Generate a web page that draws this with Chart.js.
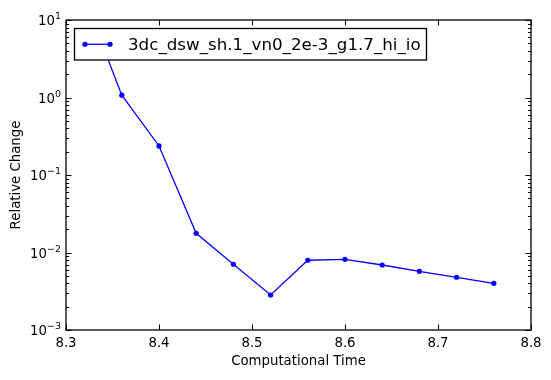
<!DOCTYPE html>
<html><head><meta charset="utf-8">
<script src="https://cdn.jsdelivr.net/npm/chart.js@4"></script>
<style>html,body{margin:0;padding:0;background:#fff}#wrap{width:551px;height:380px}</style>
</head><body><div id="wrap"><canvas id="c" width="551" height="380"></canvas></div>
<script>
const times = [8.34, 8.36, 8.40, 8.44, 8.48, 8.52, 8.56, 8.60, 8.64, 8.68, 8.72, 8.76];
const relChange = [4.5, 1.07, 0.237, 0.0177, 0.00705, 0.00283, 0.00794, 0.00817, 0.0069, 0.00572, 0.00479, 0.0040];
const seriesName = '3dc_dsw_sh.1_vn0_2e-3_g1.7_hi_io';
const xTicks = [8.3, 8.4, 8.5, 8.6, 8.7, 8.8];
const yExps = [-3, -2, -1, 0, 1];
const xTitle = 'Computational Time';
const yTitle = 'Relative Change';

const FONT = '"DejaVu Sans", sans-serif';
const axesPlugin = {
  id: 'mplAxes',
  afterDatasetsDraw(chart) {
    const ctx = chart.ctx, a = chart.chartArea;
    const xs = chart.scales.x, ys = chart.scales.y;
    ctx.save();
    ctx.strokeStyle = '#000';
    ctx.fillStyle = '#000';
    ctx.lineWidth = 1;
    ctx.beginPath();
    xTicks.forEach(v => {
      const px = Math.round(xs.getPixelForValue(v)) + 0.5;
      ctx.moveTo(px, a.bottom); ctx.lineTo(px, a.bottom - 5.5);
      ctx.moveTo(px, a.top); ctx.lineTo(px, a.top + 5.5);
    });
    yExps.forEach((e, i) => {
      const py = Math.round(ys.getPixelForValue(Math.pow(10, e))) + 0.5;
      ctx.moveTo(a.left, py); ctx.lineTo(a.left + 5.5, py);
      ctx.moveTo(a.right, py); ctx.lineTo(a.right - 5.5, py);
      if (i < yExps.length - 1) {
        for (let m = 2; m <= 9; m++) {
          const pm = Math.round(ys.getPixelForValue(m * Math.pow(10, e))) + 0.5;
          ctx.moveTo(a.left, pm); ctx.lineTo(a.left + 3, pm);
          ctx.moveTo(a.right, pm); ctx.lineTo(a.right - 3, pm);
        }
      }
    });
    ctx.stroke();
    ctx.lineWidth = 1.3;
    ctx.strokeRect(a.left, a.top, a.right - a.left, a.bottom - a.top);
    ctx.font = '13.3px ' + FONT;
    ctx.textAlign = 'center'; ctx.textBaseline = 'middle';
    xTicks.forEach(v => {
      ctx.fillText(v.toFixed(1), xs.getPixelForValue(v), a.bottom + 14);
    });
    yExps.forEach(e => {
      const py = ys.getPixelForValue(Math.pow(10, e));
      ctx.font = '9.5px ' + FONT;
      const sup = String(e).replace('-', '\u2212');
      ctx.textAlign = 'left'; ctx.textBaseline = 'alphabetic';
      const sw = ctx.measureText(sup).width;
      const right = a.left - 5;
      ctx.fillText(sup, right - sw, py - 1);
      ctx.font = '13.3px ' + FONT;
      ctx.textAlign = 'right'; ctx.textBaseline = 'middle';
      ctx.fillText('10', right - sw, py + 2);
    });
    ctx.font = '13.3px ' + FONT;
    ctx.textAlign = 'center'; ctx.textBaseline = 'middle';
    ctx.fillText(xTitle, (a.left + a.right) / 2, 362);
    ctx.save();
    ctx.translate(17, (a.top + a.bottom) / 2);
    ctx.rotate(-Math.PI / 2);
    ctx.fillText(yTitle, 0, 0);
    ctx.restore();
    const lx = 74.5, ly = 28.5, lw = 352, lh = 31.5;
    ctx.fillStyle = '#fff';
    ctx.fillRect(lx, ly, lw, lh);
    ctx.lineWidth = 1.3; ctx.strokeStyle = '#000';
    ctx.strokeRect(lx, ly, lw, lh);
    const cy = ly + lh / 2;
    ctx.strokeStyle = '#0000ff'; ctx.fillStyle = '#0000ff'; ctx.lineWidth = 1.3;
    ctx.beginPath(); ctx.moveTo(85, cy); ctx.lineTo(110, cy); ctx.stroke();
    [85, 110].forEach(x => { ctx.beginPath(); ctx.arc(x, cy, 2.6, 0, Math.PI * 2); ctx.fill(); });
    ctx.fillStyle = '#000';
    ctx.font = '16.7px ' + FONT;
    ctx.textAlign = 'left'; ctx.textBaseline = 'middle';
    ctx.fillText(seriesName, 128, cy + 1);
    ctx.restore();
  }
};

new Chart(document.getElementById('c'), {
  type: 'line',
  data: {
    datasets: [{
      label: seriesName,
      data: times.map((t, i) => ({ x: t, y: relChange[i] })),
      borderColor: '#0000ff',
      backgroundColor: '#0000ff',
      borderWidth: 1.3,
      pointRadius: 2.6,
      pointHoverRadius: 2.6,
      pointBorderWidth: 0,
      tension: 0,
      fill: false
    }]
  },
  options: {
    responsive: false,
    animation: false,
    devicePixelRatio: 1,
    layout: { padding: { left: 66, right: 20, top: 20, bottom: 50 } },
    plugins: { legend: { display: false }, tooltip: { enabled: false } },
    scales: {
      x: { type: 'linear', min: 8.3, max: 8.8, display: false },
      y: { type: 'logarithmic', min: 0.001, max: 10, display: false }
    }
  },
  plugins: [axesPlugin]
});
</script></body></html>
